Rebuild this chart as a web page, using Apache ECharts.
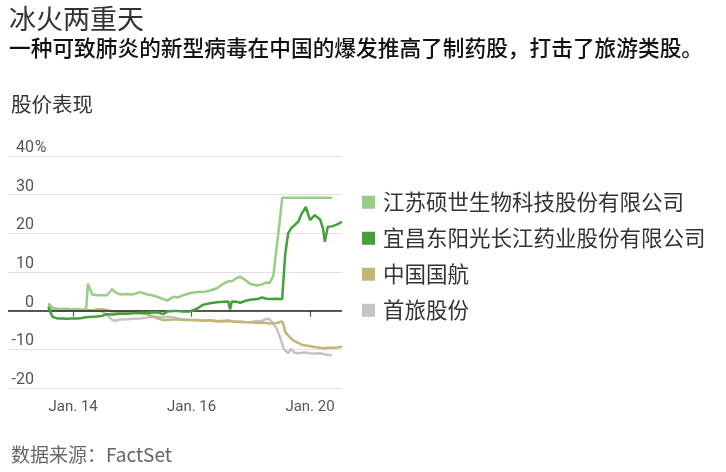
<!DOCTYPE html>
<html>
<head>
<meta charset="utf-8">
<script src="https://cdn.jsdelivr.net/npm/echarts@6/dist/echarts.min.js"></script>
<style>
  html, body { margin: 0; padding: 0; background: #fff; }
  #chart { width: 726px; height: 472px; }
</style>
</head>
<body>
<div id="chart"></div>
<script>
// Position in trading days (Jan 14 = 1, Jan 16 = 3, Jan 20 = 5)
var days = [0.58,0.65,0.73,0.81,0.90,0.98,1.07,1.15,1.22,1.25,1.32,1.41,1.49,1.57,1.66,1.71,1.79,1.91,2.01,2.13,2.25,2.33,2.42,2.52,2.59,2.69,2.77,2.86,2.97,3.09,3.19,3.31,3.43,3.53,3.62,3.65,3.68,3.77,3.82,3.90,3.99,4.11,4.19,4.27,4.32,4.38,4.43,4.48,4.53,4.55,4.58,4.63,4.68,4.73,4.80,4.86,4.93,5.00,5.08,5.17,5.22,5.25,5.30,5.37,5.46,5.54];

var seriesNames = ['江苏硕世生物科技股份有限公司','宜昌东阳光长江药业股份有限公司','中国国航','首旅股份'];

var jiangsuShuoshi = [1.4,0.6,0.5,0.4,0.5,0.3,0.4,0.3,0.4,7.0,4.2,4.0,4.0,4.0,5.6,4.8,4.2,4.3,4.2,4.8,4.2,4.0,3.6,3.0,2.6,3.6,3.4,4.0,4.5,4.8,4.8,5.2,5.8,6.9,7.6,7.9,7.6,8.5,8.8,8.0,6.9,6.5,6.8,7.3,7.2,9.0,15.5,22.0,29.2,29.2,29.2,29.2,29.2,29.2,29.2,29.2,29.2,29.2,29.2,29.2,29.2,29.2,29.2,29.2,null,null];

var yichangHEC = [1.0,-1.6,-2.0,-2.0,-2.1,-2.0,-2.0,-1.9,-1.7,-1.6,-1.6,-1.5,-1.3,-0.9,-1.0,-0.9,-0.8,-0.8,-0.7,-0.6,-0.6,-0.5,-0.4,-0.9,-0.2,-0.1,-0.1,-0.2,-0.2,0.5,1.5,1.9,2.2,2.3,2.4,0.3,2.4,2.3,2.0,2.5,2.8,3.0,3.4,3.1,3.0,3.0,3.1,3.0,3.0,3.0,14.4,20.0,21.3,22.0,23.0,25.1,26.8,23.4,24.7,23.6,21.3,17.8,21.7,21.8,22.3,23.0];

var airChina = [1.9,0.8,0.4,0.2,0.3,0.1,0.2,0.0,0.2,0.2,0.1,0.3,0.4,0.2,-0.2,-0.3,-0.2,-0.4,-0.4,-0.6,-0.9,-1.4,-2.0,-2.4,-2.4,-2.3,-2.3,-2.4,-2.4,-2.5,-2.6,-2.5,-2.7,-2.8,-2.7,-2.7,-2.8,-2.9,-2.9,-3.0,-3.0,-3.1,-3.1,-3.2,-3.3,-3.3,-3.2,-3.0,-2.8,-3.5,-5.5,-6.4,-7.2,-7.8,-8.3,-8.8,-9.0,-9.2,-9.4,-9.6,-9.7,-9.7,-9.6,-9.6,-9.5,-9.3];

var btgHotels = [1.0,0.4,0.1,0.0,0.2,0.1,0.0,0.2,0.1,0.1,0.0,0.1,-0.2,-1.1,-2.4,-2.6,-2.3,-2.2,-2.1,-2.0,-1.8,-1.6,-1.6,-1.7,-1.6,-1.7,-2.0,-2.2,-2.4,-2.4,-2.5,-2.6,-2.8,-2.6,-2.5,-2.6,-2.7,-2.8,-2.8,-2.9,-3.0,-2.7,-2.6,-2.1,-2.3,-3.3,-4.5,-6.3,-8.5,-9.7,-10.3,-11.0,-9.9,-10.8,-11.0,-10.9,-10.8,-11.0,-11.1,-11.0,-11.2,-11.2,-11.4,-11.5,null,null];

var tickDays = [1, 3, 5];
var tickLabels = ['Jan. 14', 'Jan. 16', 'Jan. 20'];
var yTicks = { min: -20, max: 40, step: 10 };

var colors = ['#98cd88', '#45a03c', '#c2b676', '#c4c4c4'];
var seriesValues = [jiangsuShuoshi, yichangHEC, airChina, btgHotels];
var zOrder = [4, 5, 3, 2];

function pairs(vals) {
  return days.map(function (d, i) { return [d, vals[i]]; });
}

var cjk = '"Noto Sans CJK SC", "Noto Sans", sans-serif';
var num = 'Roboto, "Noto Sans", sans-serif';

var series = seriesNames.map(function (name, i) {
  return {
    name: name,
    type: 'line',
    data: pairs(seriesValues[i]),
    showSymbol: false,
    symbol: 'none',
    connectNulls: false,
    z: zOrder[i],
    lineStyle: { color: colors[i], width: 2.5 },
    itemStyle: { color: colors[i] },
    emphasis: { disabled: true }
  };
});
// zero reference line
series[3].markLine = {
  silent: true,
  symbol: 'none',
  label: { show: false },
  lineStyle: { color: '#222', width: 1.5, type: 'solid' },
  data: [{ yAxis: 0 }]
};

var chart = echarts.init(document.getElementById('chart'), null, { renderer: 'canvas' });
chart.setOption({
  animation: false,
  backgroundColor: '#fff',
  title: [
    { text: '冰火两重天', left: 4, top: 0, textStyle: { fontFamily: cjk, fontSize: 27, fontWeight: 'normal', color: '#333' } },
    { text: '一种可致肺炎的新型病毒在中国的爆发推高了制药股，打击了旅游类股。', left: 4, top: 32, textStyle: { fontFamily: cjk, fontSize: 21.7, fontWeight: 500, color: '#111' } },
    { text: '股价表现', left: 6, top: 89, textStyle: { fontFamily: cjk, fontSize: 20.5, fontWeight: 'normal', color: '#333' } },
    { text: '数据来源：FactSet', left: 6, top: 440, textStyle: { fontFamily: cjk, fontSize: 19, fontWeight: 'normal', color: '#666' } }
  ],
  legend: {
    orient: 'vertical',
    left: 357,
    top: 186,
    icon: 'rect',
    itemWidth: 13,
    itemHeight: 13,
    itemGap: 13.5,
    selectedMode: false,
    data: seriesNames,
    textStyle: { fontFamily: cjk, fontSize: 21.5, color: '#333', lineHeight: 22.5, padding: [0, 0, 0, 3] }
  },
  grid: { left: 8, right: 384, top: 156, bottom: 84, containLabel: false },
  xAxis: {
    type: 'value',
    min: -0.1,
    max: 5.54,
    axisLine: { show: false },
    splitLine: { show: false },
    axisTick: { show: true, customValues: tickDays, length: 6, lineStyle: { color: '#555', width: 1.2 } },
    axisLabel: {
      customValues: tickDays,
      margin: 12,
      fontFamily: num,
      fontSize: 15,
      color: '#555',
      formatter: function (v) {
        var k = tickDays.indexOf(v);
        return k >= 0 ? tickLabels[k] : '';
      }
    }
  },
  yAxis: {
    type: 'value',
    min: yTicks.min,
    max: yTicks.max,
    interval: yTicks.step,
    axisLine: { show: false },
    axisTick: { show: false },
    splitLine: { show: true, lineStyle: { color: '#e0e0e0', width: 1 } },
    axisLabel: {
      inside: true,
      align: 'right',
      verticalAlign: 'bottom',
      margin: 39,
      formatter: function (v) {
        return v === yTicks.max ? '{n|' + v + '}{p|%}' : '{n|' + v + '}{p| }';
      },
      rich: {
        n: { fontFamily: num, fontSize: 16, color: '#555', padding: [0, 0, 0, 0] },
        p: { fontFamily: num, fontSize: 16, color: '#555', width: 13, align: 'left', padding: [0, 0, 0, 0] }
      }
    }
  },
  series: series
});
</script>
</body>
</html>
